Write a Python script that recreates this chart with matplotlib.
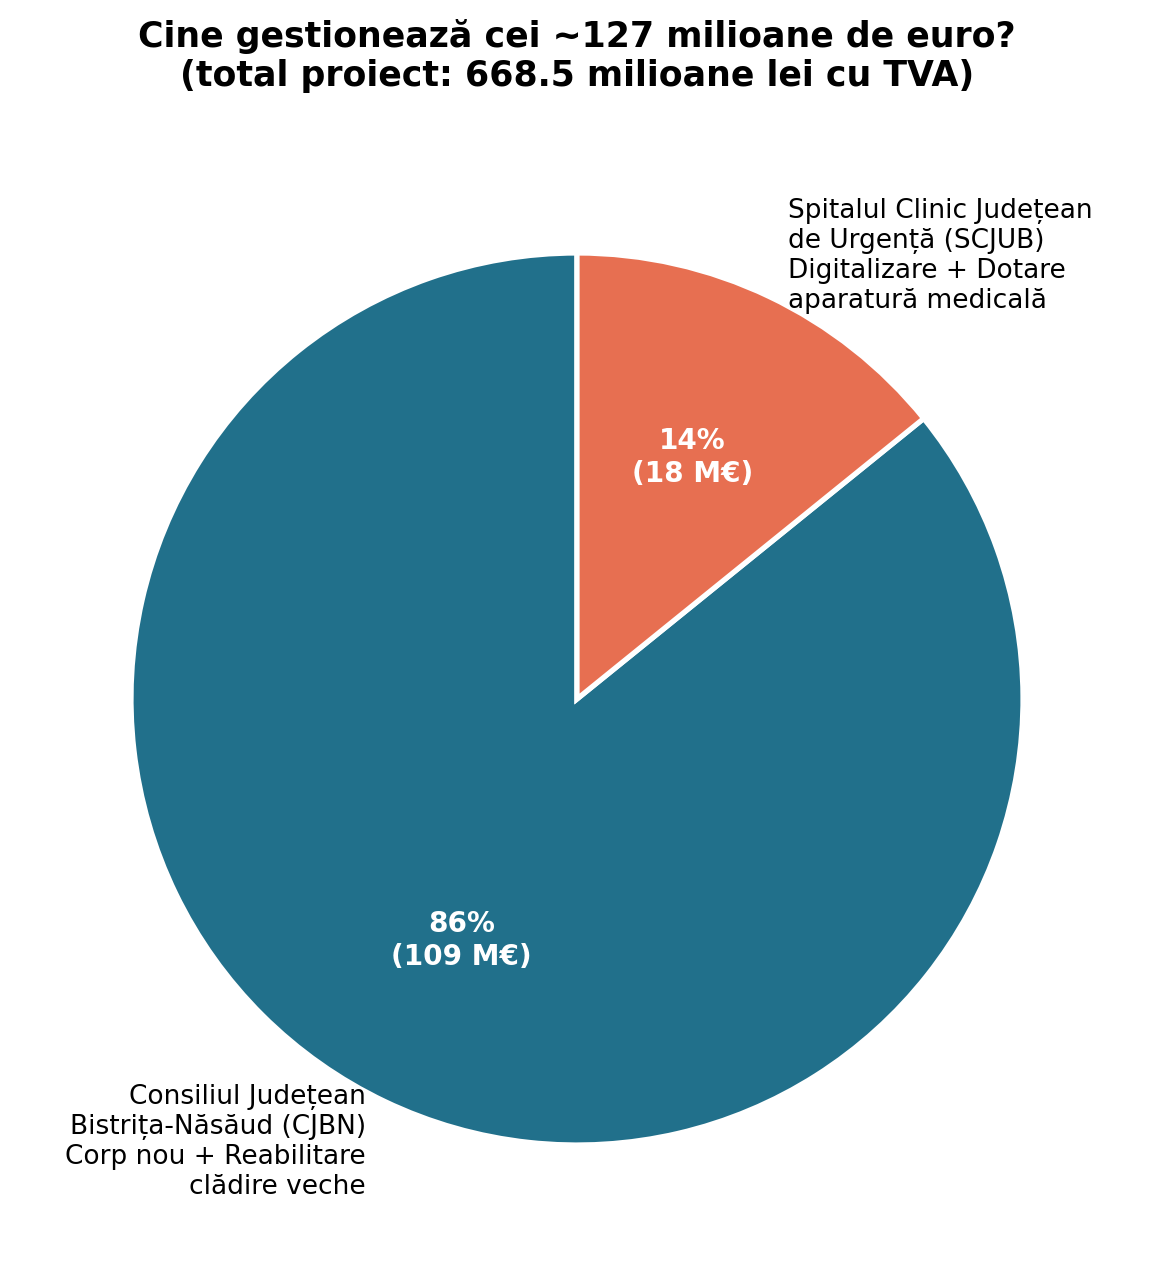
import matplotlib
matplotlib.use("Agg")
import matplotlib.pyplot as plt

labels = ["Consiliul Județean\nBistrița-Năsăud (CJBN)\nCorp nou + Reabilitare\nclădire veche",
          "Spitalul Clinic Județean\nde Urgență (SCJUB)\nDigitalizare + Dotare\naparatură medicală"]
values = [109, 18]
colors = ["#21708B", "#E76F51"]
title = "Cine gestionează cei ~127 milioane de euro?\n(total proiect: 668.5 milioane lei cu TVA)"

total = sum(values)

def fmt(pct):
    return f"{pct:.0f}%\n({pct*total/100:.0f} M€)"

fig = plt.figure(figsize=(1154/150, 1277/150), dpi=150)
ax = fig.add_axes([0, 0, 1, 1])
wedges, texts, autotexts = ax.pie(values, labels=labels, colors=colors, startangle=90,
                                  autopct=fmt, pctdistance=0.6, labeldistance=1.1,
                                  wedgeprops=dict(edgecolor="white", linewidth=2.5),
                                  textprops=dict(fontsize=12.65))
for t in autotexts:
    t.set_color("white")
    t.set_fontweight("bold")
    t.set_fontsize(13.4)
R = 446
ax.set_xlim(-577/R, 577/R)
ax.set_ylim(-(1277-699)/R, 699/R)
ax.set_aspect("equal")
ax.axis("off")
fig.text(0.5, 0.956, title, ha="center", va="center", fontsize=16.7, fontweight="bold")
fig.savefig("out.png", dpi=150)
